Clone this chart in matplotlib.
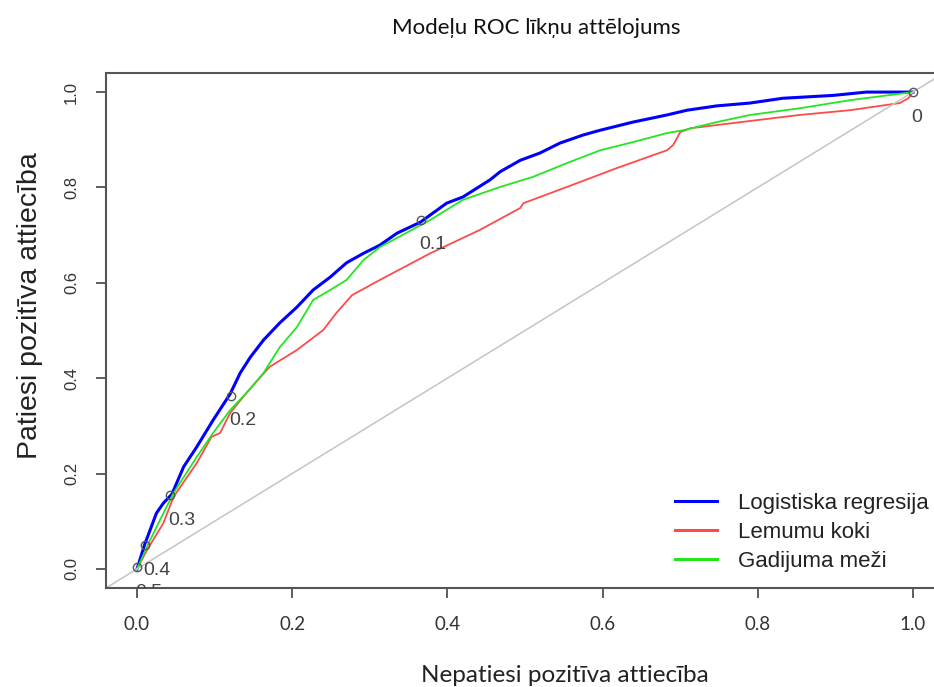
import numpy as np
import matplotlib.pyplot as plt

# ROC curves: false positive rate vs true positive rate for each model
log_fpr = [0, 0.010, 0.025, 0.034, 0.045, 0.060, 0.077, 0.098, 0.120, 0.133, 0.146, 0.163,
           0.184, 0.206, 0.227, 0.249, 0.270, 0.292, 0.313, 0.335, 0.365, 0.399, 0.420, 0.455,
           0.468, 0.494, 0.519, 0.545, 0.575, 0.597, 0.639, 0.683, 0.709, 0.747, 0.790, 0.832,
           0.897, 0.940, 1.0]
log_tpr = [0, 0.052, 0.117, 0.138, 0.157, 0.214, 0.256, 0.312, 0.367, 0.411, 0.444, 0.480,
           0.516, 0.549, 0.585, 0.612, 0.642, 0.662, 0.679, 0.704, 0.727, 0.767, 0.780, 0.816,
           0.833, 0.857, 0.872, 0.893, 0.910, 0.920, 0.937, 0.952, 0.962, 0.971, 0.977, 0.987,
           0.993, 1.0, 1.0]

tree_fpr = [0, 0.013, 0.034, 0.047, 0.077, 0.096, 0.107, 0.120, 0.141, 0.171, 0.206, 0.240,
            0.257, 0.277, 0.313, 0.378, 0.442, 0.494, 0.498, 0.554, 0.619, 0.683, 0.691, 0.700,
            0.713, 0.768, 0.854, 0.919, 0.983, 0.994, 1.0]
tree_tpr = [0, 0.040, 0.096, 0.151, 0.222, 0.277, 0.285, 0.327, 0.369, 0.424, 0.459, 0.501,
            0.537, 0.574, 0.606, 0.662, 0.711, 0.757, 0.767, 0.801, 0.841, 0.878, 0.889, 0.916,
            0.924, 0.935, 0.952, 0.962, 0.977, 0.987, 1.0]

rf_fpr = [0, 0.017, 0.034, 0.047, 0.077, 0.098, 0.120, 0.141, 0.163, 0.184, 0.206, 0.227,
          0.249, 0.270, 0.292, 0.313, 0.335, 0.378, 0.420, 0.468, 0.510, 0.554, 0.597, 0.639,
          0.683, 0.704, 0.747, 0.790, 0.854, 0.919, 1.0]
rf_tpr = [0, 0.061, 0.117, 0.159, 0.235, 0.285, 0.333, 0.369, 0.411, 0.465, 0.507, 0.564,
          0.585, 0.606, 0.648, 0.675, 0.694, 0.732, 0.774, 0.801, 0.822, 0.851, 0.878, 0.895,
          0.914, 0.920, 0.937, 0.952, 0.966, 0.983, 1.0]

# cutoff points printed on the logistic regression curve
cut_fpr = [1.0, 0.366, 0.121, 0.0425, 0.010, 0.0]
cut_tpr = [1.0, 0.732, 0.363, 0.155, 0.050, 0.004]
cut_labels = ['0', '0.1', '0.2', '0.3', '0.4', '0.5']

labels = ['Logistiska regresija', 'Lemumu koki', 'Gadijuma meži']
ticks = [0.0, 0.2, 0.4, 0.6, 0.8, 1.0]

W, H = 934, 687
fig = plt.figure(figsize=(W / 100, H / 100), dpi=100)
ax = fig.add_axes([106 / W, 99 / H, 838 / W, 515 / H])

ax.plot(log_fpr, log_tpr, color='#0000ff', lw=2.2, label=labels[0])
ax.plot(tree_fpr, tree_tpr, color='#ff4a4a', lw=1.3, label=labels[1])
ax.plot(rf_fpr, rf_tpr, color='#22e622', lw=1.3, label=labels[2])
ax.axline((0, 0), (1, 1), color='#c4c4c4', lw=1.1)

ax.plot(cut_fpr, cut_tpr, 'o', mfc='none', mec='#555555', ms=6, mew=1.0)
for x, y, s in zip(cut_fpr, cut_tpr, cut_labels):
    ax.annotate(s, (x, y), xytext=(-2, -25), textcoords='offset pixels',
                ha='left', va='center', fontsize=14, color='#444444',
                family='Liberation Sans', clip_on=True)

ax.set_xlim(-0.04, 1.04)
ax.set_ylim(-0.04, 1.04)
ax.set_xticks(ticks)
ax.set_yticks(ticks)
ax.set_xticklabels(['%.1f' % t for t in ticks], family='Lato', fontsize=13.5, color='#333333')
ax.set_yticklabels(['%.1f' % t for t in ticks], family='Liberation Sans',
                   fontsize=12, color='#333333', rotation=90, va='center')
ax.tick_params(axis='both', length=7.5, width=1.2, color='#444444')
ax.tick_params(axis='x', pad=13)
ax.tick_params(axis='y', pad=12)
for sp in ax.spines.values():
    sp.set_color('#555555')
    sp.set_linewidth(1.5)

leg = ax.legend(loc='upper left', bbox_to_anchor=(675 / W, (H - 493) / H),
                bbox_transform=fig.transFigure, frameon=False, borderpad=0,
                borderaxespad=0, handlelength=1.9, handletextpad=0.95,
                labelspacing=0.35, prop={'family': 'Liberation Sans', 'size': 16})
for t in leg.get_texts():
    t.set_color('#222222')
for h in leg.get_lines():
    h.set_linewidth(2.2)

fig.text(536 / W, 1 - 28 / H, 'Modeļu ROC līkņu attēlojums', ha='center', va='center',
         family='Lato', fontsize=16, color='#111111')
fig.text(565 / W, 1 - 675 / H, 'Nepatiesi pozitīva attiecība', ha='center', va='center',
         family='Lato', fontsize=17.5, color='#222222')
fig.text(30 / W, 1 - 306 / H, 'Patiesi pozitīva attiecība', ha='center', va='center',
         rotation=90, family='Liberation Sans', fontsize=20.5, color='#222222')

fig.savefig('out.png', dpi=100)
